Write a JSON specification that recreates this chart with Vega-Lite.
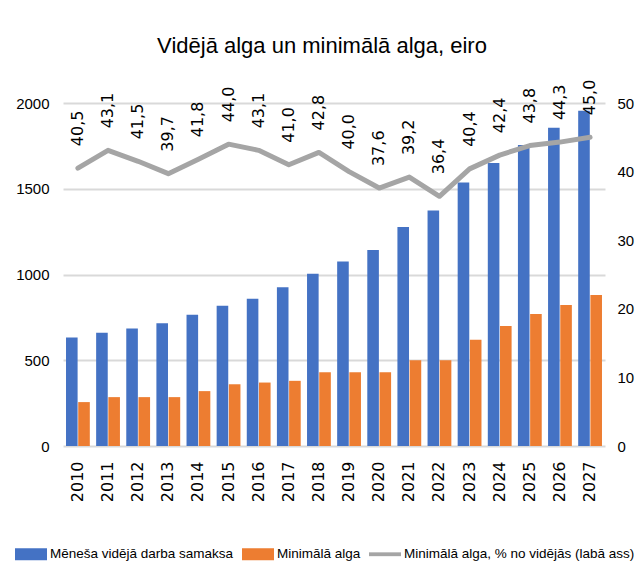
{
  "$schema": "https://vega.github.io/schema/vega-lite/v6.json",
  "width": 542,
  "height": 343,
  "autosize": {"type": "none"},
  "padding": {"left": 63, "top": 103, "right": 34, "bottom": 130},
  "background": "white",
  "title": {
    "text": "Vidējā alga un minimālā alga, eiro",
    "font": "Liberation Sans",
    "fontSize": 22,
    "fontWeight": "normal",
    "color": "#000000",
    "anchor": "middle",
    "dx": -12,
    "offset": 22
  },
  "datasets": {
    "wages": [
      {"year": "2010", "series": "Mēneša vidējā darba samaksa", "value": 633},
      {"year": "2011", "series": "Mēneša vidējā darba samaksa", "value": 660},
      {"year": "2012", "series": "Mēneša vidējā darba samaksa", "value": 685},
      {"year": "2013", "series": "Mēneša vidējā darba samaksa", "value": 716},
      {"year": "2014", "series": "Mēneša vidējā darba samaksa", "value": 765},
      {"year": "2015", "series": "Mēneša vidējā darba samaksa", "value": 818},
      {"year": "2016", "series": "Mēneša vidējā darba samaksa", "value": 859},
      {"year": "2017", "series": "Mēneša vidējā darba samaksa", "value": 926},
      {"year": "2018", "series": "Mēneša vidējā darba samaksa", "value": 1004},
      {"year": "2019", "series": "Mēneša vidējā darba samaksa", "value": 1076},
      {"year": "2020", "series": "Mēneša vidējā darba samaksa", "value": 1143},
      {"year": "2021", "series": "Mēneša vidējā darba samaksa", "value": 1277},
      {"year": "2022", "series": "Mēneša vidējā darba samaksa", "value": 1373},
      {"year": "2023", "series": "Mēneša vidējā darba samaksa", "value": 1537},
      {"year": "2024", "series": "Mēneša vidējā darba samaksa", "value": 1650},
      {"year": "2025", "series": "Mēneša vidējā darba samaksa", "value": 1755},
      {"year": "2026", "series": "Mēneša vidējā darba samaksa", "value": 1855},
      {"year": "2027", "series": "Mēneša vidējā darba samaksa", "value": 1955},
      {"year": "2010", "series": "Minimālā alga", "value": 256},
      {"year": "2011", "series": "Minimālā alga", "value": 285},
      {"year": "2012", "series": "Minimālā alga", "value": 285},
      {"year": "2013", "series": "Minimālā alga", "value": 285},
      {"year": "2014", "series": "Minimālā alga", "value": 320},
      {"year": "2015", "series": "Minimālā alga", "value": 360},
      {"year": "2016", "series": "Minimālā alga", "value": 370},
      {"year": "2017", "series": "Minimālā alga", "value": 380},
      {"year": "2018", "series": "Minimālā alga", "value": 430},
      {"year": "2019", "series": "Minimālā alga", "value": 430},
      {"year": "2020", "series": "Minimālā alga", "value": 430},
      {"year": "2021", "series": "Minimālā alga", "value": 500},
      {"year": "2022", "series": "Minimālā alga", "value": 500},
      {"year": "2023", "series": "Minimālā alga", "value": 620},
      {"year": "2024", "series": "Minimālā alga", "value": 700},
      {"year": "2025", "series": "Minimālā alga", "value": 770},
      {"year": "2026", "series": "Minimālā alga", "value": 822},
      {"year": "2027", "series": "Minimālā alga", "value": 880}
    ],
    "ratio": [
      {"year": "2010", "pct": 40.5},
      {"year": "2011", "pct": 43.1},
      {"year": "2012", "pct": 41.5},
      {"year": "2013", "pct": 39.7},
      {"year": "2014", "pct": 41.8},
      {"year": "2015", "pct": 44.0},
      {"year": "2016", "pct": 43.1},
      {"year": "2017", "pct": 41.0},
      {"year": "2018", "pct": 42.8},
      {"year": "2019", "pct": 40.0},
      {"year": "2020", "pct": 37.6},
      {"year": "2021", "pct": 39.2},
      {"year": "2022", "pct": 36.4},
      {"year": "2023", "pct": 40.4},
      {"year": "2024", "pct": 42.4},
      {"year": "2025", "pct": 43.8},
      {"year": "2026", "pct": 44.3},
      {"year": "2027", "pct": 45.0}
    ]
  },
  "layer": [
    {
      "data": {"name": "wages"},
      "mark": {"type": "bar"},
      "encoding": {
        "x": {
          "field": "year",
          "type": "ordinal",
          "scale": {"paddingInner": 0.21, "paddingOuter": 0.1},
          "axis": {
            "title": null,
            "labelAngle": -90,
            "labelFont": "DejaVu Sans",
            "labelFontSize": 16,
            "labelColor": "#000000",
            "labelPadding": 15,
            "ticks": false,
            "domain": false
          }
        },
        "xOffset": {
          "field": "series",
          "type": "nominal",
          "sort": ["Mēneša vidējā darba samaksa", "Minimālā alga"],
          "scale": {"paddingInner": 0.05, "paddingOuter": 0}
        },
        "y": {
          "field": "value",
          "type": "quantitative",
          "scale": {"domain": [0, 2000], "nice": false},
          "axis": {
            "orient": "left",
            "title": null,
            "values": [0, 500, 1000, 1500, 2000],
            "format": "d",
            "labelFont": "Liberation Sans",
            "labelFontSize": 15,
            "labelColor": "#000000",
            "labelPadding": 14,
            "ticks": false,
            "domain": false,
            "grid": true,
            "gridColor": "#D9D9D9",
            "gridWidth": 2
          }
        },
        "color": {
          "field": "series",
          "type": "nominal",
          "scale": {
            "domain": ["Mēneša vidējā darba samaksa", "Minimālā alga", "Minimālā alga, % no vidējās (labā ass)"],
            "range": ["#4472C4", "#ED7D31", "#A5A5A5"]
          },
          "legend": {
            "title": null,
            "orient": "none",
            "direction": "horizontal",
            "legendX": -48,
            "legendY": 435,
            "labelFont": "Liberation Sans",
            "labelFontSize": 13.5,
            "labelColor": "#000000",
            "labelLimit": 400,
            "labelOffset": 3,
            "columnPadding": 8,
            "symbolSize": 1024,
            "symbolType": "M-1,-0.375H1V0.375H-1Z",
            "encode": {
              "symbols": {
                "update": {
                  "shape": {"signal": "datum.value === 'Minimālā alga, % no vidējās (labā ass)' ? 'M-1,-0.12H1V0.12H-1Z' : 'M-1,-0.375H1V0.375H-1Z'"},
                  "fill": {"scale": "color", "field": "value"},
                  "stroke": {"value": "transparent"},
                  "strokeWidth": {"value": 0},
                  "opacity": {"value": 1},
                  "fillOpacity": {"value": 1}
                }
              }
            }
          }
        }
      }
    },
    {
      "data": {"name": "ratio"},
      "encoding": {
        "x": {"field": "year", "type": "ordinal"},
        "y": {
          "field": "pct",
          "type": "quantitative",
          "scale": {"domain": [0, 50], "nice": false},
          "axis": {
            "orient": "right",
            "title": null,
            "values": [0, 10, 20, 30, 40, 50],
            "format": "d",
            "labelFont": "Liberation Sans",
            "labelFontSize": 15,
            "labelColor": "#000000",
            "labelPadding": 12,
            "ticks": false,
            "domain": false,
            "grid": false
          }
        }
      },
      "layer": [
        {
          "mark": {"type": "line", "strokeWidth": 5, "strokeJoin": "round", "strokeCap": "round"},
          "encoding": {
            "color": {"datum": "Minimālā alga, % no vidējās (labā ass)"}
          }
        },
        {
          "mark": {
            "type": "text",
            "angle": 270,
            "align": "left",
            "baseline": "middle",
            "dx": 22,
            "font": "DejaVu Sans",
            "fontSize": 16,
            "color": "#000000"
          },
          "encoding": {
            "text": {"field": "pct", "type": "quantitative", "format": ".1f"}
          }
        }
      ]
    }
  ],
  "resolve": {"scale": {"y": "independent"}},
  "config": {
    "view": {"stroke": null},
    "locale": {
      "number": {"decimal": ",", "thousands": " ", "grouping": [3], "currency": ["", " €"]}
    }
  }
}
